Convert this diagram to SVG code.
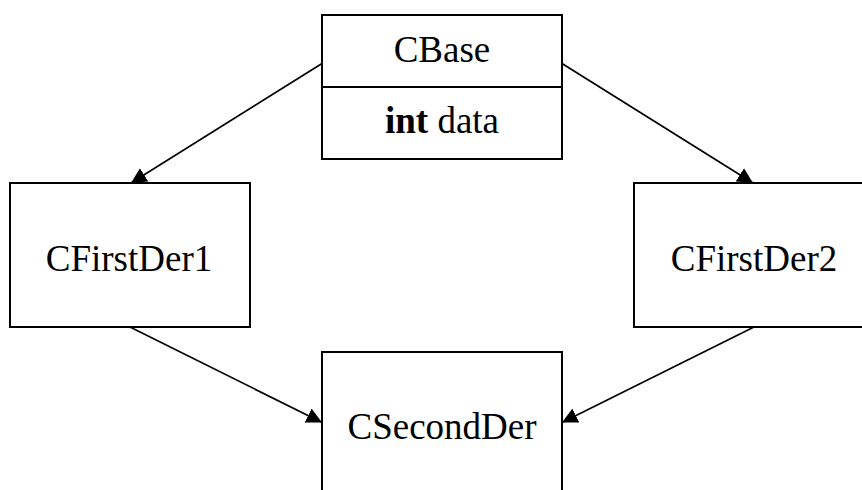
<svg xmlns="http://www.w3.org/2000/svg" width="862" height="490" viewBox="0 0 862 490">
  <style>
    .box { fill: #ffffff; stroke: #000000; stroke-width: 2; }
    .sep { stroke: #000000; stroke-width: 2; }
    .name { font-family: 'Liberation Serif', 'Times New Roman', serif; font-size: 37px; fill: #000000; text-anchor: middle; }
    .kw { font-weight: bold; }
    .edge { fill: none; stroke: #000000; stroke-width: 1.7; marker-end: url(#arrow); }
  </style>
  <defs>
    <!-- solid triangular arrowhead, tip at the line end -->
    <marker id="arrow" markerUnits="userSpaceOnUse" markerWidth="17" markerHeight="17" viewBox="0 -8.5 17 17" refX="15.5" refY="0" orient="auto">
      <path d="M0,-7.8 L15.5,0 L0,7.8 Z" fill="#000000"/>
    </marker>
  </defs>
  <rect width="862" height="490" fill="#ffffff"/>

  <!-- inheritance connectors -->
  <g id="connectors">
    <line class="edge" x1="322" y1="63.5" x2="131" y2="183"/>
    <line class="edge" x1="562" y1="63.5" x2="753" y2="183"/>
    <line class="edge" x1="130" y1="327" x2="322" y2="422.5"/>
    <line class="edge" x1="754" y1="327" x2="562" y2="422.5"/>
  </g>

  <g id="CBase">
    <rect class="box" x="322" y="15" width="240" height="144"/>
    <line class="sep" x1="322" y1="87" x2="562" y2="87"/>
    <text class="name" x="442" y="62">CBase</text>
    <text class="name" x="442" y="133"><tspan class="kw">int</tspan> data</text>
  </g>

  <g id="CFirstDer1">
    <rect class="box" x="10" y="183" width="240" height="144"/>
    <text class="name" x="129" y="271">CFirstDer1</text>
  </g>

  <g id="CFirstDer2">
    <rect class="box" x="634" y="183" width="242" height="144"/>
    <text class="name" x="754" y="271">CFirstDer2</text>
  </g>

  <g id="CSecondDer">
    <rect class="box" x="322" y="352" width="240" height="160"/>
    <text class="name" x="442" y="439">CSecondDer</text>
  </g>
</svg>
